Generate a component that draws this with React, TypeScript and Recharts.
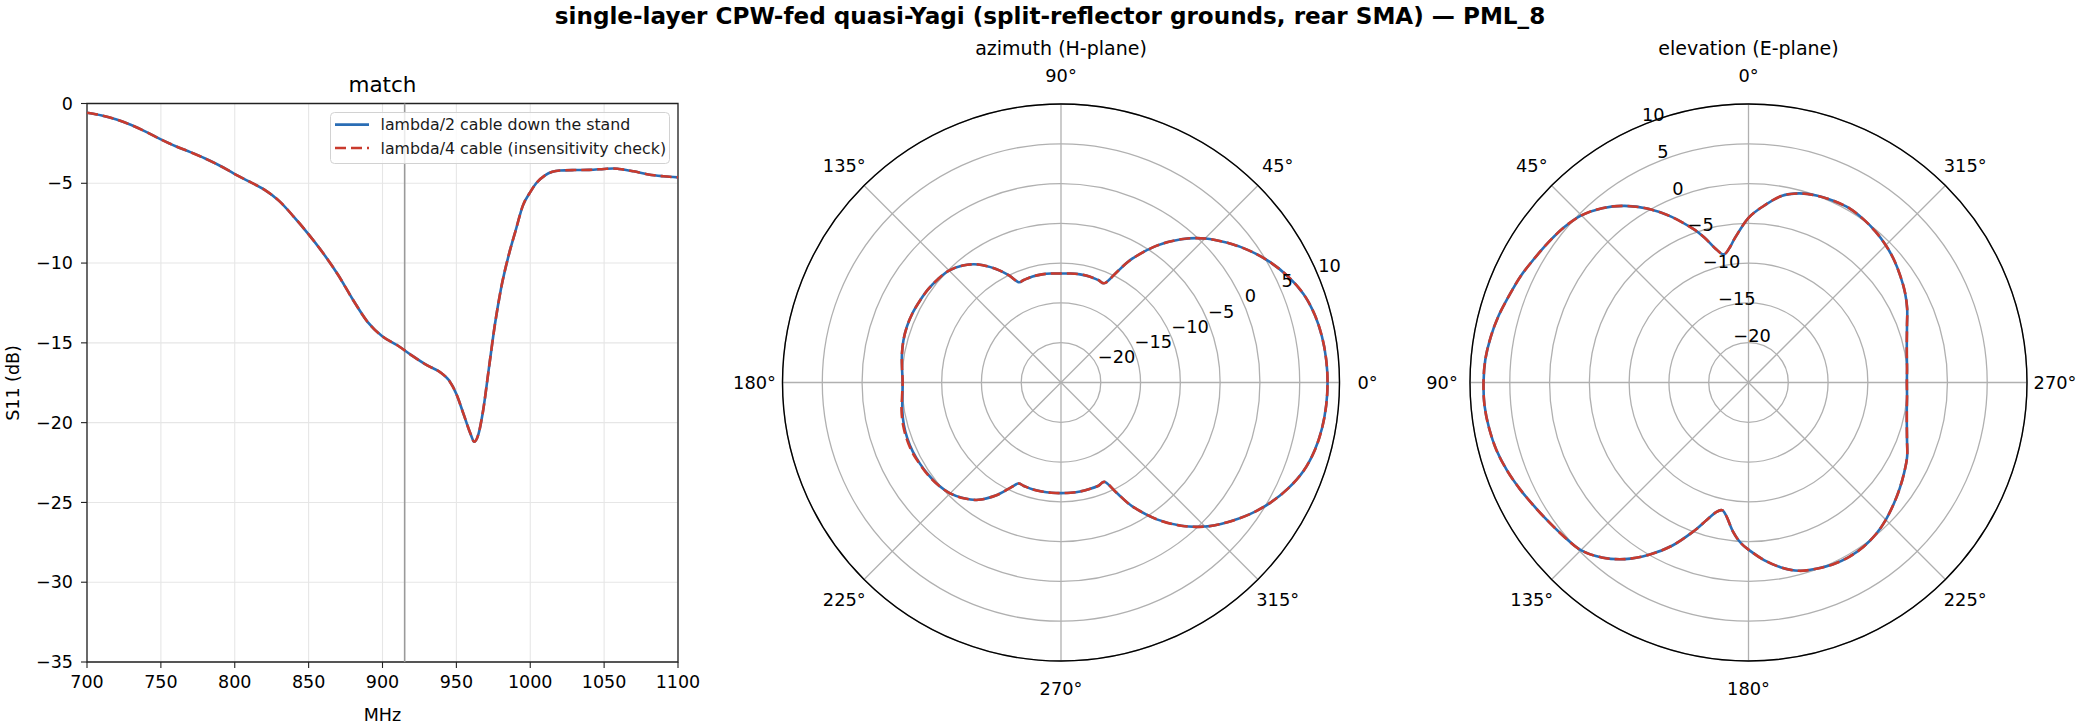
import {
  LineChart,
  Line,
  XAxis,
  YAxis,
  CartesianGrid,
  ReferenceLine,
  ReferenceArea,
  Legend,
  RadarChart,
  Radar,
  PolarGrid,
  PolarAngleAxis,
  PolarRadiusAxis,
} from "recharts";

const FONT = "DejaVu Sans, Verdana, sans-serif";
const BLUE = "#2a6db5";
const RED = "#c93a2d";

// ---- match sweep (S11, dB) ----
const freqMHz = [
  700, 710, 720, 730, 740, 750, 760, 770, 780, 790, 800, 810, 820, 830, 840,
  850, 860, 870, 880, 890, 900, 910, 920, 930, 940, 945, 950, 955, 960, 962,
  965, 968, 972, 976, 980, 986, 990, 995, 1000, 1004, 1010, 1015, 1020, 1030,
  1040, 1050, 1056, 1060, 1070, 1080, 1090, 1100,
];
const s11Half = [
  -0.58, -0.75, -1.0, -1.35, -1.78, -2.25, -2.68, -3.05, -3.45, -3.9, -4.42,
  -4.9, -5.4, -6.1, -7.1, -8.2, -9.4, -10.75, -12.3, -13.7, -14.6, -15.15,
  -15.8, -16.4, -16.9, -17.35, -18.2, -19.5, -20.8, -21.2, -20.7, -19.3,
  -16.6, -13.9, -11.7, -9.3, -8.0, -6.4, -5.55, -5.0, -4.5, -4.28, -4.2,
  -4.17, -4.16, -4.1, -4.07, -4.1, -4.25, -4.45, -4.56, -4.63,
];
const s11Quarter = [
  -0.58, -0.75, -1.0, -1.35, -1.78, -2.25, -2.68, -3.05, -3.45, -3.9, -4.42,
  -4.9, -5.4, -6.1, -7.1, -8.2, -9.4, -10.75, -12.3, -13.7, -14.6, -15.15,
  -15.8, -16.4, -16.9, -17.35, -18.2, -19.5, -20.8, -21.2, -20.7, -19.3,
  -16.6, -13.9, -11.7, -9.3, -8.0, -6.4, -5.55, -5.0, -4.5, -4.28, -4.2,
  -4.17, -4.16, -4.1, -4.07, -4.1, -4.25, -4.45, -4.56, -4.63,
];
const freqTicks = [700, 750, 800, 850, 900, 950, 1000, 1050, 1100];
const s11Ticks = [-35, -30, -25, -20, -15, -10, -5, 0];
const bandMHz = 915;

// ---- azimuth (H-plane) pattern, dBi ----
const azAngles = [
  0, 5, 10, 15, 20, 25, 30, 35, 40, 45, 50, 55, 60, 63, 66, 70, 75, 80, 85,
  90, 95, 100, 105, 110, 113, 116, 120, 125, 130, 135, 140, 145, 150, 155,
  160, 165, 170, 175, 180, 185, 190, 195, 200, 205, 210, 215, 220, 225, 230,
  235, 240, 244, 247, 250, 255, 260, 265, 270, 275, 280, 285, 290, 294, 297,
  300, 305, 310, 315, 320, 325, 330, 335, 340, 345, 350, 355,
];
const azHalf = [
  8.5, 8.45, 8.3, 8.0, 7.45, 6.5, 5.3, 3.9, 2.3, 0.6, -1.5, -4.0, -7.0, -9.3,
  -11.3, -11.3, -11.2, -11.2, -11.25, -11.3, -11.25, -11.2, -11.2, -11.3,
  -11.3, -10.0, -8.5, -6.9, -5.8, -5.1, -4.8, -4.6, -4.5, -4.4, -4.4, -4.5,
  -4.7, -4.95, -5.1, -5.0, -4.75, -4.55, -4.45, -4.45, -4.55, -4.7, -4.9,
  -5.3, -6.0, -7.0, -8.6, -10.2, -11.2, -11.2, -11.1, -11.1, -11.1, -11.1,
  -11.1, -11.1, -11.15, -11.2, -11.3, -9.3, -7.0, -4.0, -1.5, 0.6, 2.3, 3.9,
  5.3, 6.5, 7.45, 8.0, 8.3, 8.45,
];
const azQuarter = [
  8.5, 8.45, 8.3, 8.0, 7.45, 6.5, 5.3, 3.9, 2.3, 0.6, -1.5, -4.0, -7.0, -9.3,
  -11.3, -11.3, -11.2, -11.2, -11.25, -11.3, -11.25, -11.2, -11.2, -11.3,
  -11.3, -10.0, -8.5, -6.9, -5.8, -5.1, -4.8, -4.6, -4.5, -4.4, -4.4, -4.5,
  -4.7, -4.95, -5.1, -4.95, -4.65, -4.45, -4.35, -4.35, -4.5, -4.65, -4.9,
  -5.3, -6.0, -7.0, -8.6, -10.2, -11.2, -11.2, -11.1, -11.1, -11.1, -11.1,
  -11.1, -11.1, -11.15, -11.2, -11.3, -9.3, -7.0, -4.0, -1.5, 0.6, 2.3, 3.9,
  5.3, 6.5, 7.45, 8.0, 8.3, 8.45,
];

// ---- elevation (E-plane) pattern, dBi ----
const elAngles = [
  0, 5, 8, 11, 14, 17, 20, 25, 30, 35, 40, 45, 50, 55, 60, 65, 70, 75, 80,
  85, 90, 95, 100, 105, 110, 115, 120, 125, 130, 135, 140, 145, 150, 155,
  160, 163, 166, 168.5, 171, 174, 177, 180, 185, 190, 195, 200, 205, 210,
  215, 220, 225, 230, 235, 240, 245, 250, 255, 260, 265, 270, 275, 280, 285,
  290, 295, 300, 305, 310, 315, 320, 325, 330, 335, 340, 345, 350, 355,
];
const elHalf = [
  -4.3, -6.6, -7.9, -8.6, -7.6, -5.9, -4.4, -2.0, 0.2, 2.1, 3.6, 4.7, 5.3,
  5.7, 6.1, 6.6, 7.0, 7.5, 7.9, 8.2, 8.3, 8.3, 8.1, 7.8, 7.3, 6.7, 6.1, 5.6,
  5.2, 4.8, 3.7, 2.1, 0.0, -2.4, -5.2, -6.9, -8.2, -8.6, -7.8, -6.2, -4.9,
  -4.0, -2.6, -1.4, -0.5, -0.1, 0.2, 0.3, 0.2, -0.1, -0.6, -1.2, -1.8, -2.4,
  -3.0, -3.8, -4.4, -4.8, -5.0, -5.1, -5.0, -4.8, -4.4, -3.8, -3.0, -2.3,
  -1.7, -1.1, -0.6, -0.2, 0.1, 0.3, 0.2, 0.0, -0.4, -1.2, -2.7,
];
const elQuarter = [
  -4.3, -6.6, -7.9, -8.6, -7.6, -5.9, -4.4, -2.0, 0.2, 2.1, 3.6, 4.7, 5.3,
  5.7, 6.1, 6.6, 7.0, 7.5, 7.9, 8.2, 8.3, 8.3, 8.1, 7.8, 7.3, 6.7, 6.1, 5.6,
  5.2, 4.8, 3.7, 2.1, 0.0, -2.4, -5.2, -6.9, -8.2, -8.6, -7.8, -6.2, -4.9,
  -4.0, -2.6, -1.4, -0.5, -0.1, 0.2, 0.3, 0.2, -0.1, -0.6, -1.2, -1.8, -2.4,
  -3.0, -3.8, -4.4, -4.8, -5.0, -5.1, -5.0, -4.8, -4.4, -3.8, -3.0, -2.3,
  -1.7, -1.1, -0.6, -0.2, 0.1, 0.3, 0.2, 0.0, -0.4, -1.2, -2.7,
];

const angleTicks = [0, 45, 90, 135, 180, 225, 270, 315];
const ringTicks = [-20, -15, -10, -5, 0, 5, 10];

const minus = (v: number) => String(v).replace("-", "\u2212");

const matchData = freqMHz.map((f, i) => ({
  f,
  half: s11Half[i],
  quarter: s11Quarter[i],
}));
const azData = azAngles.map((angle, i) => ({
  angle,
  half: azHalf[i],
  quarter: azQuarter[i],
}));
const elData = elAngles.map((angle, i) => ({
  angle,
  half: elHalf[i],
  quarter: elQuarter[i],
}));

const tickStyle = { fill: "#000", fontSize: 17.5, fontFamily: FONT };

// closed Catmull-Rom through the points Recharts placed
function smoothRing(points: { x: number; y: number }[]) {
  const n = points.length;
  if (!n) return "";
  let d = `M${points[0].x},${points[0].y}`;
  for (let i = 0; i < n; i++) {
    const p0 = points[(i - 1 + n) % n];
    const p1 = points[i];
    const p2 = points[(i + 1) % n];
    const p3 = points[(i + 2) % n];
    const c1x = p1.x + (p2.x - p0.x) / 6;
    const c1y = p1.y + (p2.y - p0.y) / 6;
    const c2x = p2.x - (p3.x - p1.x) / 6;
    const c2y = p2.y - (p3.y - p1.y) / 6;
    d += `C${c1x},${c1y} ${c2x},${c2y} ${p2.x},${p2.y}`;
  }
  return d + "Z";
}

function SmoothTrace(props: any) {
  return (
    <path
      d={smoothRing(props.points ?? [])}
      fill="none"
      stroke={props.stroke}
      strokeWidth={props.strokeWidth}
      strokeDasharray={props.strokeDasharray}
      strokeLinejoin="round"
    />
  );
}

// legend box drawn from the Line props
function MatchLegend({ payload }: any) {
  const items = payload ?? [];
  return (
    <svg width={341} height={53} style={{ display: "block" }}>
      <rect
        x={0.5}
        y={0.5}
        width={339}
        height={51}
        rx={4}
        fill="#fff"
        fillOpacity={0.8}
        stroke="#d2d2d2"
      />
      {items.map((it: any, i: number) => (
        <g key={it.value}>
          <line
            x1={5}
            x2={39}
            y1={12.6 + i * 23.4}
            y2={12.6 + i * 23.4}
            stroke={it.color}
            strokeWidth={2.6}
            strokeDasharray={it.payload?.strokeDasharray}
          />
          <text
            x={50.5}
            y={12.6 + i * 23.4}
            dy="0.36em"
            fontSize={15.8}
            fontFamily={FONT}
            fill="#1a1a1a"
          >
            {it.value}
          </text>
        </g>
      ))}
    </svg>
  );
}

function AngleTick(props: any) {
  const { x, y, payload } = props;
  return (
    <text
      x={x}
      y={y}
      dy="0.36em"
      textAnchor="middle"
      fontSize={17.8}
      fontFamily={FONT}
      fill="#000"
    >
      {payload.value}°
    </text>
  );
}

function RadiusTick(props: any) {
  const { x, y, payload } = props;
  return (
    <text
      x={x}
      y={y - 4}
      textAnchor="start"
      fontSize={17.8}
      fontFamily={FONT}
      fill="#000"
    >
      {minus(payload.value)}
    </text>
  );
}

function Pattern({
  data,
  left,
  cx,
  startAngle,
  labelAngle,
}: {
  data: { angle: number; half: number; quarter: number }[];
  left: number;
  cx: number;
  startAngle: number;
  labelAngle: number;
}) {
  return (
    <div style={{ position: "absolute", left, top: 0 }}>
      <RadarChart
        width={700}
        height={728}
        data={data}
        cx={cx}
        cy={382.5}
        innerRadius={0}
        outerRadius={278.5}
        startAngle={startAngle}
        endAngle={startAngle + 360}
        margin={{ top: 0, right: 0, bottom: 0, left: 0 }}
      >
        <PolarGrid gridType="circle" stroke="#b0b0b0" strokeWidth={1.3} />
        <PolarAngleAxis
          dataKey="angle"
          type="number"
          domain={[0, 360]}
          ticks={angleTicks as any}
          tickSize={28}
          tickLine={false}
          axisLineType="circle"
          axisLine={{ stroke: "#000", strokeWidth: 1.4 }}
          tick={AngleTick}
        />
        <PolarRadiusAxis
          angle={labelAngle}
          type="number"
          domain={[-25, 10]}
          ticks={ringTicks as any}
          axisLine={false}
          tickLine={false}
          tick={RadiusTick}
        />
        <Radar
          dataKey="half"
          stroke={BLUE}
          strokeWidth={2.6}
          fill="none"
          fillOpacity={0}
          dot={false}
          shape={SmoothTrace}
          isAnimationActive={false}
        />
        <Radar
          dataKey="quarter"
          stroke={RED}
          strokeWidth={2.6}
          strokeDasharray="11 5"
          fill="none"
          fillOpacity={0}
          dot={false}
          shape={SmoothTrace}
          isAnimationActive={false}
        />
      </RadarChart>
    </div>
  );
}

export default function App() {
  return (
    <div
      style={{
        position: "absolute",
        left: 0,
        top: 0,
        width: 2100,
        height: 728,
        background: "#fff",
        fontFamily: FONT,
      }}
    >
      <div style={{ position: "absolute", left: 0, top: 0 }}>
        <LineChart
          width={700}
          height={728}
          data={matchData}
          margin={{ top: 103.5, right: 22, bottom: 26, left: 27 }}
        >
          <CartesianGrid stroke="#e6e6e6" strokeWidth={1.1} />
          <XAxis
            dataKey="f"
            type="number"
            domain={[700, 1100]}
            ticks={freqTicks}
            height={40}
            tick={tickStyle}
            tickSize={6}
            tickMargin={8}
            axisLine={false}
            tickLine={{ stroke: "#222", strokeWidth: 1.1 }}
            allowDataOverflow
          />
          <YAxis
            type="number"
            domain={[-35, 0]}
            ticks={s11Ticks}
            tickFormatter={minus}
            width={60}
            tick={tickStyle}
            tickSize={6}
            tickMargin={8}
            axisLine={false}
            tickLine={{ stroke: "#222", strokeWidth: 1.1 }}
            allowDataOverflow
          />
          <ReferenceLine x={bandMHz} stroke="#9a9a9a" strokeWidth={1.6} />
          <Line
            name="lambda/2 cable down the stand"
            dataKey="half"
            type="monotone"
            stroke={BLUE}
            strokeWidth={2.6}
            dot={false}
            isAnimationActive={false}
          />
          <Line
            name="lambda/4 cable (insensitivity check)"
            dataKey="quarter"
            type="monotone"
            stroke={RED}
            strokeWidth={2.6}
            strokeDasharray="11 5"
            dot={false}
            isAnimationActive={false}
          />
          <ReferenceArea
            x1={700}
            x2={1100}
            y1={-35}
            y2={0}
            fill="none"
            stroke="#222"
            strokeWidth={1.3}
          />
          <Legend
            layout="vertical"
            align="center"
            verticalAlign="middle"
            wrapperStyle={{ left: 330, top: 111.5, width: 341 }}
            content={MatchLegend}
          />
        </LineChart>
      </div>

      <Pattern data={azData} left={700} cx={361} startAngle={0} labelAngle={22.5} />
      <Pattern
        data={elData}
        left={1400}
        cx={348.5}
        startAngle={90}
        labelAngle={112.5}
      />

      {/* figure texts */}
      <svg
        width={2100}
        height={728}
        style={{ position: "absolute", left: 0, top: 0, pointerEvents: "none" }}
        fontFamily={FONT}
      >
        <text x={1050} y={23.5} textAnchor="middle" fontSize={23.1} fontWeight="bold">
          single-layer CPW-fed quasi-Yagi (split-reflector grounds, rear SMA) — PML_8
        </text>
        <text x={382.5} y={92.3} textAnchor="middle" fontSize={21.5}>
          match
        </text>
        <text x={1061} y={55} textAnchor="middle" fontSize={19}>
          azimuth (H-plane)
        </text>
        <text x={1748.5} y={55} textAnchor="middle" fontSize={19}>
          elevation (E-plane)
        </text>
        <text x={382.5} y={721} textAnchor="middle" fontSize={17.5}>
          MHz
        </text>
        <text
          x={19}
          y={383}
          textAnchor="middle"
          fontSize={17.5}
          transform="rotate(-90 19 383)"
        >
          S11 (dB)
        </text>
      </svg>
    </div>
  );
}
